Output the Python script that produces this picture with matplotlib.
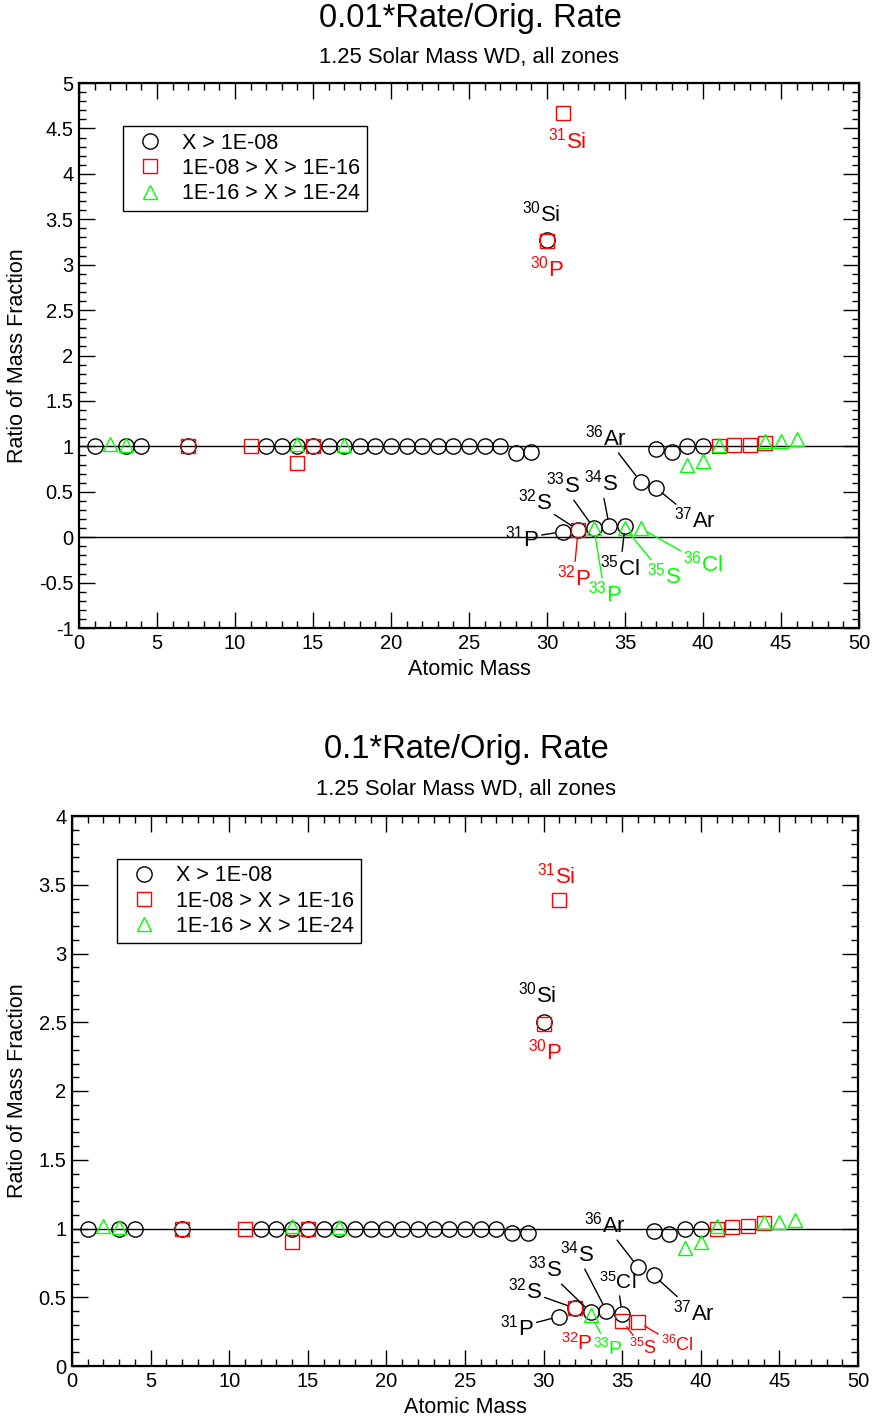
import matplotlib
matplotlib.use('Agg')
from matplotlib import pyplot as plt
from matplotlib.ticker import MultipleLocator, FormatStrFormatter

plt.rcParams['font.family'] = ['Liberation Sans', 'DejaVu Sans']
plt.rcParams['mathtext.fontset'] = 'custom'
plt.rcParams['mathtext.rm'] = 'Liberation Sans'
plt.rcParams['mathtext.it'] = 'Liberation Sans:italic'
plt.rcParams['axes.unicode_minus'] = False

RED = '#ff0000'
GREEN = '#00ff00'

# ---- 0.01*Rate panel ----
circ_m_1 = [1, 3, 4, 7, 12, 13, 14, 15, 16, 17, 18, 19, 20, 21, 22, 23, 24, 25, 26, 27,
            28, 29, 30, 31, 32, 33, 34, 35, 36, 37, 37, 38, 39, 40]
circ_r_1 = [1.0, 1.0, 1.0, 1.0, 1.0, 1.0, 1.0, 1.0, 1.0, 1.0, 1.0, 1.0, 1.0, 1.0, 1.0, 1.0, 1.0, 1.0, 1.0, 1.0,
            0.93, 0.94, 3.27, 0.06, 0.08, 0.10, 0.12, 0.12, 0.61, 0.54, 0.97, 0.94, 1.0, 1.0]
sq_m_1 = [7, 11, 14, 15, 30, 31, 32, 41, 42, 43, 44]
sq_r_1 = [1.0, 1.0, 0.82, 1.0, 3.26, 4.67, 0.08, 1.0, 1.01, 1.02, 1.04]
tri_m_1 = [2, 3, 14, 17, 33, 35, 36, 39, 40, 41, 44, 45, 46]
tri_r_1 = [1.03, 1.02, 1.03, 1.02, 0.10, 0.10, 0.10, 0.79, 0.84, 1.02, 1.06, 1.06, 1.08]

# ---- 0.1*Rate panel ----
circ_m_2 = [1, 3, 4, 7, 12, 13, 14, 15, 16, 17, 18, 19, 20, 21, 22, 23, 24, 25, 26, 27,
            28, 29, 30, 31, 32, 33, 34, 35, 36, 37, 37, 38, 39, 40]
circ_r_2 = [1.0, 1.0, 1.0, 1.0, 1.0, 1.0, 1.0, 1.0, 1.0, 1.0, 1.0, 1.0, 1.0, 1.0, 1.0, 1.0, 1.0, 1.0, 1.0, 1.0,
            0.97, 0.97, 2.50, 0.36, 0.42, 0.39, 0.40, 0.38, 0.72, 0.66, 0.98, 0.96, 1.0, 1.0]
sq_m_2 = [7, 11, 14, 15, 30, 31, 32, 35, 36, 41, 42, 43, 44]
sq_r_2 = [1.0, 1.0, 0.90, 1.0, 2.49, 3.39, 0.42, 0.33, 0.32, 1.0, 1.01, 1.02, 1.04]
tri_m_2 = [2, 3, 14, 17, 33, 39, 40, 41, 44, 45, 46]
tri_r_2 = [1.02, 1.01, 1.02, 1.01, 0.37, 0.86, 0.90, 1.02, 1.05, 1.05, 1.06]

legend_labels = ['X > 1E-08', '1E-08 > X > 1E-16', '1E-16 > X > 1E-24']

# isotope labels: (A, element, colour, series, mass)
iso_1 = [('30', 'Si', 'k', 'c', 30), ('30', 'P', RED, 's', 30), ('31', 'Si', RED, 's', 31),
         ('36', 'Ar', 'k', 'c', 36), ('37', 'Ar', 'k', 'c', 37), ('31', 'P', 'k', 'c', 31),
         ('32', 'S', 'k', 'c', 32), ('33', 'S', 'k', 'c', 33), ('34', 'S', 'k', 'c', 34),
         ('35', 'Cl', 'k', 'c', 35), ('32', 'P', RED, 's', 32), ('33', 'P', GREEN, 't', 33),
         ('35', 'S', GREEN, 't', 35), ('36', 'Cl', GREEN, 't', 36)]
iso_2 = [('30', 'Si', 'k', 'c', 30), ('30', 'P', RED, 's', 30), ('31', 'Si', RED, 's', 31),
         ('36', 'Ar', 'k', 'c', 36), ('37', 'Ar', 'k', 'c', 37), ('31', 'P', 'k', 'c', 31),
         ('32', 'S', 'k', 'c', 32), ('33', 'S', 'k', 'c', 33), ('34', 'S', 'k', 'c', 34),
         ('35', 'Cl', 'k', 'c', 35), ('32', 'P', RED, 's', 32), ('33', 'P', GREEN, 't', 33),
         ('35', 'S', RED, 's', 35), ('36', 'Cl', RED, 's', 36)]

# layout of the labels: text centre (x, y), connecting line, font size
lay_1 = [(29.6, 3.56, False, 16), (30.0, 2.96, False, 16), (31.3, 4.37, False, 16),
         (33.8, 1.10, True, 16), (39.5, 0.19, True, 16), (28.4, -0.01, True, 16),
         (29.2, 0.39, True, 16), (31.0, 0.58, True, 16), (33.45, 0.60, True, 16),
         (34.7, -0.33, True, 16), (31.7, -0.44, True, 16), (33.7, -0.62, True, 16),
         (37.5, -0.42, True, 16), (40.0, -0.29, True, 16)]
lay_2 = [(29.6, 2.70, False, 16), (30.1, 2.29, False, 16), (30.8, 3.57, False, 16),
         (33.9, 1.03, True, 16), (39.6, 0.39, True, 16), (28.3, 0.28, True, 16),
         (28.8, 0.55, True, 16), (30.1, 0.71, True, 16), (32.1, 0.82, True, 16),
         (34.7, 0.61, True, 15), (32.1, 0.17, False, 15), (34.1, 0.14, True, 14),
         (36.3, 0.13, True, 13), (38.5, 0.15, True, 13)]


def pick(masses, ratios, m):
	# first point of a series at a given mass
	for i in range(len(masses)):
		if masses[i] == m:
			return ratios[i]
	return None


def panel(ax, series, iso, lay, ylim, hlines, leg_anchor):
	for y in hlines:
		ax.axhline(y, color='k', lw=1.0, zorder=1)
	styles = {'c': ('o', 'k', 11), 's': ('s', RED, 10), 't': ('^', GREEN, 10.5)}
	handles = []
	for key in ['c', 's', 't']:
		m, r = series[key]
		mk, col, ms = styles[key]
		h, = ax.plot(m, r, mk, ls='none', mfc='none', mec=col, ms=ms, mew=1.0, zorder=3)
		handles.append(h)

	for (a, el, col, key, m), (tx, ty, line, fs) in zip(iso, lay):
		yy = pick(series[key][0], series[key][1], m)
		txt = r'$^{' + a + '}$' + el
		if line:
			ax.annotate(txt, xy=(m, yy), xytext=(tx, ty), color=col, fontsize=fs,
			            ha='center', va='center',
			            arrowprops=dict(arrowstyle='-', color=col, lw=1.0, shrinkA=0, shrinkB=5.5))
		else:
			ax.text(tx, ty, txt, color=col, fontsize=fs, ha='center', va='center')

	ax.set_xlim(0, 50)
	ax.set_ylim(*ylim)
	ax.xaxis.set_major_locator(MultipleLocator(5))
	ax.xaxis.set_minor_locator(MultipleLocator(1))
	ax.yaxis.set_major_locator(MultipleLocator(0.5))
	ax.yaxis.set_minor_locator(MultipleLocator(0.1))
	ax.yaxis.set_major_formatter(FormatStrFormatter('%g'))
	ax.tick_params(which='both', direction='in', top=True, right=True, labelsize=14.5, width=1.0)
	ax.tick_params(which='major', length=11.5, pad=4)
	ax.tick_params(which='minor', length=5)
	for s in ax.spines.values():
		s.set_linewidth(1.6)
	ax.set_xlabel('Atomic Mass', fontsize=15.5)
	ax.set_ylabel('Ratio of Mass Fraction', fontsize=15.5)
	ax.xaxis.set_label_coords(0.5, -0.057)

	leg = ax.legend(handles, legend_labels, loc='upper left', bbox_to_anchor=leg_anchor,
	                borderaxespad=0, fontsize=15.5, labelspacing=0.2, borderpad=0.3,
	                handlelength=1.9, handletextpad=0.55, numpoints=1, fancybox=False,
	                framealpha=1, edgecolor='k')
	leg.get_frame().set_linewidth(1.0)


fig = plt.figure(figsize=(8.77, 14.21), dpi=100)
H = 1421.0
W = 877.0

ax1 = fig.add_axes([79 / W, 1 - 628 / H, 780 / W, 545 / H])
panel(ax1, {'c': (circ_m_1, circ_r_1), 's': (sq_m_1, sq_r_1), 't': (tri_m_1, tri_r_1)},
      iso_1, lay_1, (-1, 5), [1, 0], (0.0564, 0.921))
ax1.yaxis.set_label_coords(-0.065, 0.5)
fig.text(470 / W, 1 - 18 / H, '0.01*Rate/Orig. Rate', fontsize=23.5, ha='center', va='center')
fig.text(469 / W, 1 - 57 / H, '1.25 Solar Mass WD, all zones', fontsize=15.8, ha='center', va='center')

ax2 = fig.add_axes([72 / W, 1 - 1366 / H, 786 / W, 550 / H])
panel(ax2, {'c': (circ_m_2, circ_r_2), 's': (sq_m_2, sq_r_2), 't': (tri_m_2, tri_r_2)},
      iso_2, lay_2, (0, 4), [1], (0.0573, 0.922))
ax2.yaxis.set_label_coords(-0.056, 0.5)
fig.text(466 / W, 1 - 750 / H, '0.1*Rate/Orig. Rate', fontsize=23.5, ha='center', va='center')
fig.text(466 / W, 1 - 789 / H, '1.25 Solar Mass WD, all zones', fontsize=15.8, ha='center', va='center')

fig.savefig('out.png', dpi=100)
